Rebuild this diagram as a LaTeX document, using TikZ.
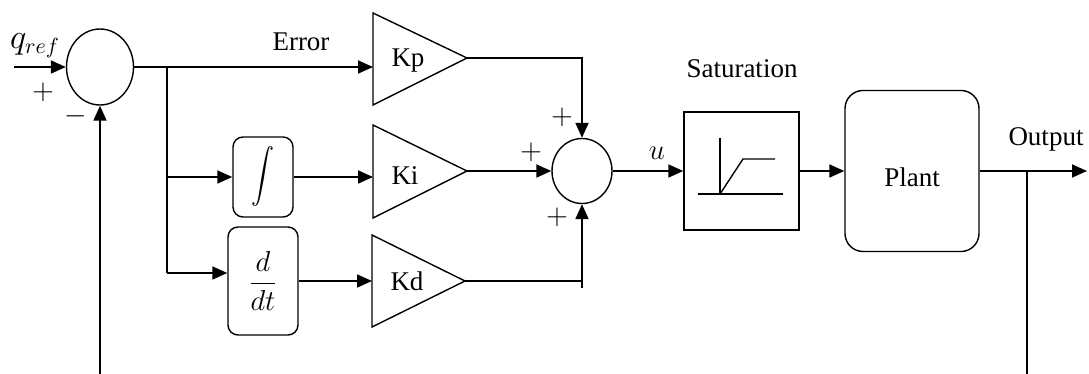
\documentclass[tikz,border=0pt]{standalone}
\usepackage{fontspec}
\usepackage{graphicx}
\setmainfont{Liberation Serif}
\usetikzlibrary{arrows.meta,shapes.geometric}
\begin{document}
\begin{tikzpicture}[x=0.5pt,y=-0.5pt,
  every node/.style={font=\fontsize{13.5}{16}\selectfont},
  wire/.style={line width=0.9pt},
  arr/.style={wire,-{Triangle[length=7.5pt,width=6.5pt]}},
  sumj/.style={draw,ellipse,line width=0.7pt,inner sep=0pt},
  blk/.style={draw,line width=0.7pt,inner sep=0pt},
  gain/.style={draw,line width=0.7pt,line join=miter},
  lbl/.style={inner sep=0pt}]
\useasboundingbox (0,0) rectangle (1089,374);

% first summing junction
\node[sumj,minimum width=33.5pt,minimum height=38pt] (s1) at (100,67) {};
\node[lbl,font=\fontsize{16}{18}\selectfont] (qref) at (35,46) {$q_{ref}$};
\node[lbl] (plus1) at (43,92) {$+$};
\node[lbl] (minus1) at (76,116) {$-$};
\coordinate (qin) at (14,67);
\draw[arr] (qin) -- (s1.west);
\coordinate (fbL) at (100,374);
\draw[arr] (fbL) -- (s1.south);

% error line and branches
\coordinate (kpin) at (373,67);
\draw[arr] (s1.east) -- (kpin);
\node[lbl] (err) at (301,42) {Error};
\coordinate (brT) at (167,67);
\coordinate (brI) at (167,177);
\coordinate (brD) at (167,273);
\draw[wire] (brT) -- (brD);

\node[blk,rounded corners=5pt,minimum width=30pt,minimum height=40pt] (int) at (263,177) {\scalebox{1.15}[1.35]{$\displaystyle\int$}};
\node[blk,rounded corners=5pt,minimum width=35pt,minimum height=54pt,font=\fontsize{14.5}{16}\selectfont] (der) at (263,281) {$\displaystyle\frac{d}{dt}$};
\draw[arr] (brI) -- (brI -| int.west);
\draw[arr] (brD) -- (brD -| der.west);

% gains
\draw[gain] (373,13) -- (467,58) -- (373,105) -- cycle;
\node[lbl] (kp) at (408,61) {Kp};
\coordinate (kpout) at (467,58);

\draw[gain] (373,125) -- (467,171) -- (373,218) -- cycle;
\node[lbl] (ki) at (405,176) {Ki};
\coordinate (kiin) at (373,177);
\coordinate (kiout) at (467,171);
\draw[arr] (int.east) -- (kiin);

\draw[gain] (372,235) -- (465,281) -- (372,327) -- cycle;
\node[lbl] (kd) at (407,281) {Kd};
\coordinate (kdin) at (372,281);
\coordinate (kdout) at (465,281);
\draw[arr] (der.east) -- (kdin);

% second summing junction
\node[sumj,minimum width=30pt,minimum height=32.5pt] (s2) at (582,171) {};
\draw[arr] (kpout) -| (s2.north);
\draw[arr] (kiout) -- (s2.west);
\coordinate (kdend) at (582,288);
\draw[wire] (kdout) -- (kdout -| s2.south);
\draw[arr] (kdend) -- (s2.south);
\node[lbl] (p2a) at (562,117) {$+$};
\node[lbl] (p2b) at (531,152) {$+$};
\node[lbl] (p2c) at (557,217) {$+$};

% saturation
\node[blk,minimum width=57.5pt,minimum height=59pt] (sat) at (741.5,171) {};
\node[lbl] (satlbl) at (742,69) {Saturation};
\draw[arr] (s2.east) -- (sat.west);
\node[lbl,font=\fontsize{15}{16}\selectfont] (ulbl) at (657,153) {$u$};
\draw[line width=0.7pt] (720,138) -- (720,194);
\draw[line width=0.7pt] (698,194) -- (783,194);
\draw[line width=0.7pt] (720,194) -- (743,159) -- (775,159);

% plant
\node[blk,rounded corners=9pt,minimum width=67pt,minimum height=80.5pt] (plant) at (912,171) {};
\node[lbl] (plantlbl) at (912,177) {Plant};
\draw[arr] (sat.east) -- (plant.west);
\coordinate (yout) at (1087,171);
\draw[arr] (plant.east) -- (yout);
\node[lbl] (outlbl) at (1046,139) {Output};
\coordinate (brO) at (1027,171);
\coordinate (fbR) at (1027,374);
\draw[wire] (brO) -- (fbR);
\end{tikzpicture}
\end{document}
